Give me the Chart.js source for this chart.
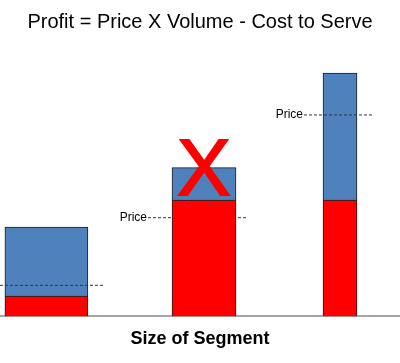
<!DOCTYPE html>
<html lang="en">
<head>
    <meta charset="UTF-8">
    <title>Profit = Price X Volume - Cost to Serve</title>
    <style>
        html, body { margin: 0; padding: 0; background: #ffffff; }
        #wrap { width: 400px; height: 363px; }
    </style>
</head>
<body>
    <div id="wrap"><canvas id="profit-chart"></canvas></div>

    <script src="https://cdn.jsdelivr.net/npm/chart.js"></script>
    <script>
        // Three customer segments, positioned along "Size of Segment"
        const segmentSize = [1.16, 5.1, 8.5];
        const costToServe = [7.5, 43, 43];      // red part of each bar
        const profit = [25.5, 12, 47];          // blue part on top
        const price = [11.5, 36.5, 74.5];       // dashed "Price" level
        const priceFrom = [0, 3.7, 7.6];
        const priceTo = [2.6, 6.2, 9.3];
        const crossedOut = [false, true, false];

        // bar widths in pixels (drawing style, not data)
        const BAR_WIDTHS = [83, 64, 34];
        const BLUE = '#4f81bd';
        const RED = '#ff0000';
        const EDGE = '#1e1e1e';
        const FONT = "'Liberation Sans', Arial, sans-serif";

        const datasets = [];
        segmentSize.forEach((x, i) => {
            datasets.push({
                type: 'bar',
                label: 'Cost to Serve ' + (i + 1),
                data: [{ x: x, y: costToServe[i] }],
                backgroundColor: RED,
                borderColor: EDGE,
                borderWidth: 1,
                barThickness: BAR_WIDTHS[i],
                order: 1
            });
            datasets.push({
                type: 'line',
                label: 'Price ' + (i + 1),
                data: [{ x: priceFrom[i], y: price[i] }, { x: priceTo[i], y: price[i] }],
                stack: 'price',
                borderColor: '#333333',
                borderWidth: 1,
                borderDash: [3, 2],
                pointRadius: 0,
                fill: false,
                order: 2
            });
            datasets.push({
                type: 'bar',
                label: 'Profit ' + (i + 1),
                data: [{ x: x, y: profit[i] }],
                backgroundColor: BLUE,
                borderColor: EDGE,
                borderWidth: 1,
                barThickness: BAR_WIDTHS[i],
                order: 3
            });
        });

        // "Price" captions and the big red X
        const annotations = {
            id: 'annotations',
            afterDatasetsDraw(chart) {
                const ctx = chart.ctx;
                const xs = chart.scales.x;
                const ys = chart.scales.y;
                ctx.save();
                ctx.fillStyle = '#000000';
                ctx.font = '12px ' + FONT;
                ctx.textAlign = 'right';
                ctx.textBaseline = 'middle';
                price.forEach((p, i) => {
                    ctx.fillText('Price', xs.getPixelForValue(priceFrom[i]) - 1, ys.getPixelForValue(p));
                });
                crossedOut.forEach((c, i) => {
                    if (!c) return;
                    const top = ys.getPixelForValue(costToServe[i] + profit[i]);
                    const cx = xs.getPixelForValue(segmentSize[i]);
                    ctx.fillStyle = RED;
                    ctx.strokeStyle = RED;
                    ctx.lineWidth = 2;
                    ctx.font = '80px ' + FONT;
                    ctx.textAlign = 'center';
                    ctx.textBaseline = 'alphabetic';
                    ctx.fillText('X', cx, top + 27);
                    ctx.strokeText('X', cx, top + 27);
                });
                ctx.restore();
            }
        };

        new Chart(document.getElementById('profit-chart'), {
            type: 'bar',
            data: { datasets: datasets },
            options: {
                responsive: true,
                maintainAspectRatio: false,
                animation: false,
                layout: { padding: { left: 0, right: 0, top: 0, bottom: 9 } },
                plugins: {
                    legend: { display: false },
                    tooltip: { enabled: false },
                    title: {
                        display: true,
                        text: 'Profit = Price X Volume - Cost to Serve',
                        color: '#000000',
                        font: { family: FONT, size: 20, weight: 'normal' },
                        padding: { top: 10, bottom: 12 }
                    }
                },
                scales: {
                    x: {
                        type: 'linear',
                        min: 0,
                        max: 10,
                        offset: false,
                        stacked: true,
                        grid: { display: false },
                        border: { display: true, color: '#a6a6a6', width: 2 },
                        ticks: { display: false, stepSize: 10 },
                        title: {
                            display: true,
                            text: 'Size of Segment',
                            color: '#000000',
                            font: { family: FONT, size: 18, weight: 'bold' },
                            padding: { top: 4, bottom: 4 }
                        }
                    },
                    y: {
                        display: false,
                        stacked: true,
                        min: 0,
                        max: 100
                    }
                }
            },
            plugins: [annotations]
        });
    </script>
</body>
</html>
